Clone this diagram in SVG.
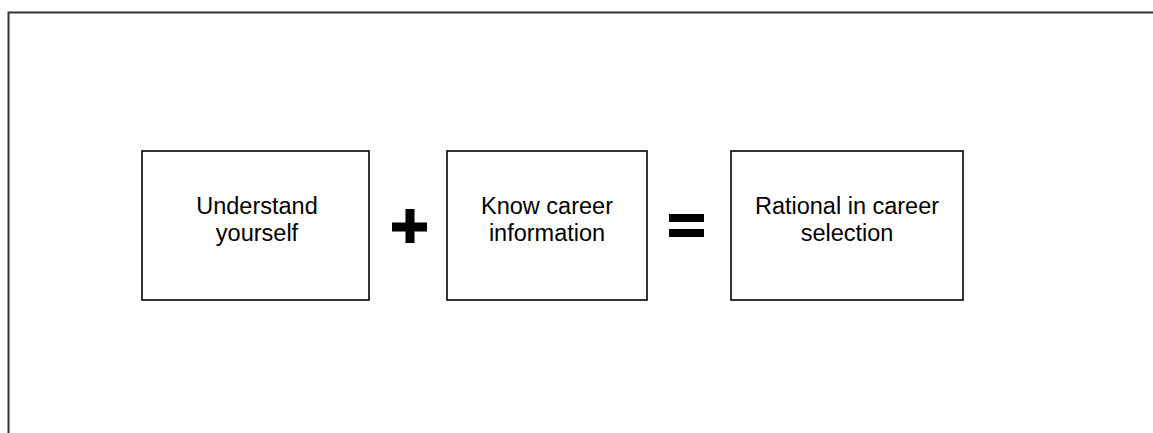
<svg xmlns="http://www.w3.org/2000/svg" width="1153" height="433" viewBox="0 0 1153 433">
<style>
.box{fill:#fff;stroke:#000;stroke-width:1.6}
.t{font-family:"Liberation Sans",Arial,sans-serif;font-size:23.5px;fill:#000;text-anchor:middle}
.op{fill:#000}
</style>
<rect width="1153" height="433" fill="#fff"/>
<path d="M8.5 440 V12.5 H1160" fill="none" stroke="#333" stroke-width="2"/>
<g id="node-understand">
<rect class="box" x="142" y="151" width="227" height="149"/>
<text class="t" x="257" y="214">Understand</text>
<text class="t" x="257" y="241">yourself</text>
</g>
<g id="node-plus">
<rect class="op" x="405.5" y="209" width="9" height="34"/>
<rect class="op" x="392" y="222.5" width="35" height="9"/>
</g>
<g id="node-know">
<rect class="box" x="447" y="151" width="200" height="149"/>
<text class="t" x="547" y="214">Know career</text>
<text class="t" x="547" y="241">information</text>
</g>
<g id="node-equals">
<rect class="op" x="669" y="214" width="35" height="8"/>
<rect class="op" x="669" y="229" width="35" height="8"/>
</g>
<g id="node-rational">
<rect class="box" x="731" y="151" width="232" height="149"/>
<text class="t" x="847" y="214">Rational in career</text>
<text class="t" x="847" y="241">selection</text>
</g>
<g id="connectors"/>
</svg>
